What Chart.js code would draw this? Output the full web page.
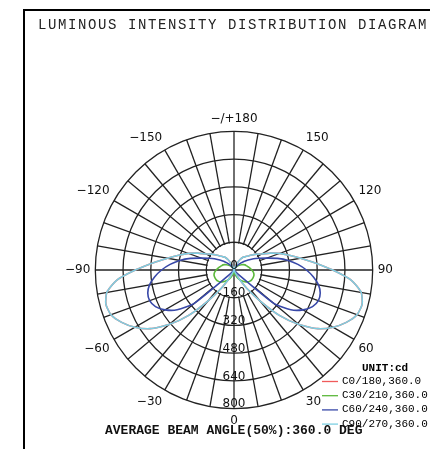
<!DOCTYPE html>
<html>
<head>
<meta charset="utf-8">
<script src="https://cdn.jsdelivr.net/npm/chart.js@4/dist/chart.umd.min.js"></script>
<style>
  html, body { margin: 0; padding: 0; background: #fff; }
  canvas { display: block; }
</style>
</head>
<body>
<canvas id="diagram" width="430" height="449"></canvas>
<script>
// gamma angles (deg) of one half-plane, the other half is the mirror image
const gammaAngles = [0, 5, 10, 15, 20, 25, 30, 35, 40, 45, 50, 55, 60, 65, 70, 75, 80, 85, 90,
  95, 100, 105, 110, 115, 120, 125, 130, 135, 140, 145, 150, 155, 160, 165, 170, 175, 180];

// intensities in cd
const c0_180 = [0, 0, 0, 0, 0, 20, 60, 130, 230, 370, 490, 590, 660, 715, 755, 765, 745, 680, 570,
  470, 390, 330, 280, 230, 185, 160, 135, 115, 100, 90, 70, 45, 20, 0, 0, 0, 0];
const c30_210 = [0, 8, 18, 28, 38, 50, 62, 75, 86, 97, 106, 112, 116, 118, 119, 119, 116, 110, 102,
  95, 88, 80, 75, 70, 62, 53, 45, 36, 28, 20, 13, 7, 3, 0, 0, 0, 0];
const c60_240 = [0, 0, 0, 0, 0, 0, 0, 0, 0, 40, 300, 400, 460, 500, 518, 515, 495, 460, 418,
  370, 318, 260, 200, 160, 130, 100, 78, 58, 42, 28, 15, 5, 0, 0, 0, 0, 0];
const c90_270 = [0, 0, 0, 0, 0, 20, 60, 130, 230, 370, 490, 590, 660, 715, 755, 765, 745, 680, 570,
  470, 390, 330, 280, 230, 185, 160, 135, 115, 100, 90, 70, 45, 20, 0, 0, 0, 0];

const radialTicks = [0, 160, 320, 480, 640, 800];
const seriesNames = ["C0/180,360.0", "C30/210,360.0", "C60/240,360.0", "C90/270,360.0"];
const titleText = "LUMINOUS INTENSITY DISTRIBUTION DIAGRAM";
const unitText = "UNIT:cd";
const beamText = "AVERAGE BEAM ANGLE(50%):360.0 DEG";

// radar runs clockwise from the bottom: 0, -5 ... -180, 175 ... 5
const ringLabels = gammaAngles.map(a => -a).concat(gammaAngles.slice(1, -1).reverse());
function fullCircle(half) {
  return half.concat(half.slice(1, -1).reverse());
}

const polarGrid = {
  id: "polarGrid",
  beforeDatasetsDraw(chart) {
    const r = chart.scales.r;
    const ctx = chart.ctx;
    const d = r.getDistanceFromCenterForValue(radialTicks[1]);
    ctx.save();
    ctx.fillStyle = "#fff";
    ctx.beginPath();
    ctx.arc(r.xCenter, r.yCenter, d - 1, 0, Math.PI * 2);
    ctx.fill();
    ctx.strokeStyle = "#222";
    ctx.lineWidth = 1.3;
    ctx.beginPath();
    ctx.moveTo(r.xCenter, r.yCenter - d);
    ctx.lineTo(r.xCenter, r.yCenter + d);
    ctx.moveTo(r.xCenter - d, r.yCenter);
    ctx.lineTo(r.xCenter + d, r.yCenter);
    ctx.stroke();
    ctx.restore();
  },
  afterDatasetsDraw(chart) {
    const r = chart.scales.r;
    const ctx = chart.ctx;
    ctx.save();
    ctx.font = "12px 'DejaVu Sans'";
    ctx.fillStyle = "#111";
    ctx.textAlign = "center";
    ctx.textBaseline = "middle";
    radialTicks.forEach(v => {
      const d = r.getDistanceFromCenterForValue(v);
      ctx.fillText(String(v), r.xCenter, r.yCenter + d - 4.5);
    });
    ctx.restore();
  },
  afterDraw(chart) {
    const ctx = chart.ctx;
    ctx.save();
    // frame
    ctx.fillStyle = "#000";
    ctx.fillRect(23, 9, 2, 440);
    ctx.fillRect(23, 9, 407, 2);
    // title
    ctx.fillStyle = "#222";
    ctx.font = "14px 'Liberation Mono'";
    ctx.letterSpacing = "1.6px";
    ctx.textBaseline = "alphabetic";
    ctx.textAlign = "left";
    ctx.fillText(titleText, 38, 28.5);
    ctx.letterSpacing = "0px";
    // legend
    ctx.textBaseline = "middle";
    ctx.fillStyle = "#000";
    ctx.font = "bold 11px 'Liberation Mono'";
    ctx.fillText(unitText, 362, 368);
    ctx.font = "11px 'Liberation Mono'";
    chart.data.datasets.forEach((ds, i) => {
      const y = 381 + i * 14.2;
      ctx.strokeStyle = ds.borderColor;
      ctx.lineWidth = 1.3;
      ctx.beginPath();
      ctx.moveTo(322, y + 0.5);
      ctx.lineTo(338, y + 0.5);
      ctx.stroke();
      ctx.fillStyle = "#000";
      ctx.fillText(ds.label, 342, y);
    });
    // beam angle
    ctx.font = "bold 13px 'Liberation Mono'";
    ctx.fillStyle = "#111";
    ctx.fillText(beamText, 105, 431);
    ctx.restore();
  }
};

const lineStyle = { fill: false, pointRadius: 0, borderWidth: 1.6, tension: 0.2 };

new Chart(document.getElementById("diagram"), {
  type: "radar",
  data: {
    labels: ringLabels,
    datasets: [
      // lower order is painted later, so C90 ends up on top of C0
      Object.assign({ label: seriesNames[0], data: fullCircle(c0_180), borderColor: "#f05a5a", order: 4 }, lineStyle),
      Object.assign({ label: seriesNames[1], data: fullCircle(c30_210), borderColor: "#5cb83c", order: 3 }, lineStyle),
      Object.assign({ label: seriesNames[2], data: fullCircle(c60_240), borderColor: "#3848a8", order: 2 }, lineStyle),
      Object.assign({ label: seriesNames[3], data: fullCircle(c90_270), borderColor: "#7ccfe2", order: 1 }, lineStyle)
    ]
  },
  options: {
    responsive: false,
    animation: false,
    devicePixelRatio: 1,
    layout: { padding: { left: 60, right: 31, top: 101, bottom: 9 } },
    scales: {
      r: {
        min: 0,
        max: 800,
        startAngle: 180,
        ticks: { stepSize: 160, display: false },
        grid: { circular: true, color: "#222", lineWidth: 1.3 },
        angleLines: {
          color: "#222",
          lineWidth: ctx => (ctx.index % 2 ? 0 : 1.3)
        },
        pointLabels: {
          padding: 5,
          color: "#111",
          font: { family: "'DejaVu Sans'", size: 12 },
          callback: v => {
            if (v % 30 !== 0) return "";
            if (v === -180) return "\u2212/+180";
            return v < 0 ? "\u2212" + (-v) : String(v);
          }
        }
      }
    },
    plugins: {
      legend: { display: false },
      tooltip: { enabled: false }
    }
  },
  plugins: [polarGrid]
});
</script>
</body>
</html>
